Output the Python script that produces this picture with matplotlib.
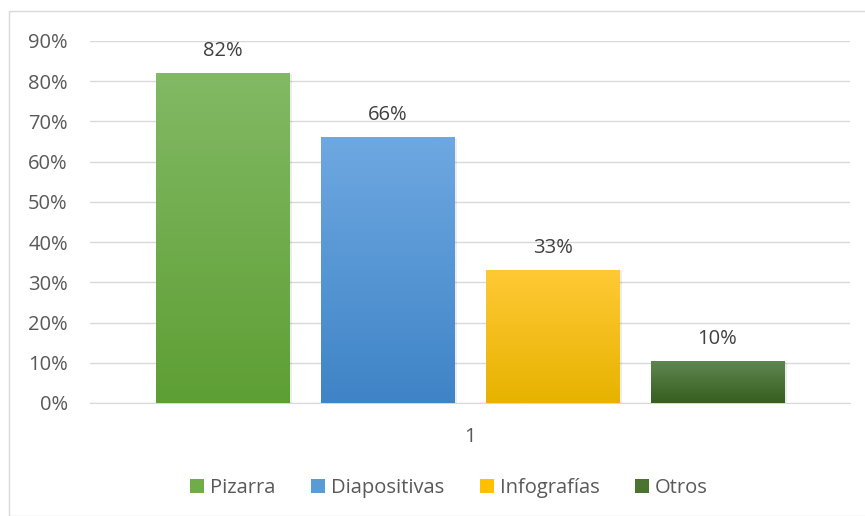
import numpy as np
import matplotlib.pyplot as plt
from matplotlib.colors import LinearSegmentedColormap
from matplotlib.patches import Rectangle, Patch

series = ["Pizarra", "Diapositivas", "Infografías", "Otros"]
values = [0.82, 0.66, 0.33, 0.104]
labels = ["82%", "66%", "33%", "10%"]
category = "1"
yticks = [0, 0.1, 0.2, 0.3, 0.4, 0.5, 0.6, 0.7, 0.8, 0.9]

# top / bottom gradient colours
top_cols = ["#82b964", "#6ea8e1", "#ffc935", "#5f8650"]
bot_cols = ["#5e9f34", "#3f84c7", "#e7b300", "#365e1f"]
legend_cols = ["#70ac47", "#5b9bd5", "#ffc000", "#4a7430"]

txt = "#595959"
fs = 14.5
plt.rcParams['font.family'] = ['Open Sans', 'DejaVu Sans']

fig = plt.figure(figsize=(8.65, 5.16), dpi=100)
fig.patches.append(Rectangle((9 / 865, 0), 1, 1 - 11 / 516, transform=fig.transFigure,
                             fill=False, edgecolor="#d9d9d9", linewidth=1.0))
ax = fig.add_axes([90 / 865, 1 - 403 / 516, 760 / 865, (403 - 41) / 516])

step = 165 / 760
width = 134 / 760
offsets = (np.arange(len(series)) - 1.5) * step

for i, (off, v) in enumerate(zip(offsets, values)):
    x0 = off - width / 2
    # soft shadow
    ax.add_patch(Rectangle((x0 + 0.001, -0.003), width + 0.002, v, facecolor="#000000",
                           alpha=0.07, edgecolor="none", zorder=2))
    cmap = LinearSegmentedColormap.from_list("g%d" % i, [bot_cols[i], top_cols[i]])
    grad = np.linspace(1, 0, 100).reshape(-1, 1)
    ax.imshow(grad, cmap=cmap, extent=[x0, x0 + width, 0, v], aspect="auto",
              zorder=3, vmin=0, vmax=1)
    ax.text(off, v + 0.056, labels[i], ha="center", va="center", fontsize=fs, color="#404040")

ax.set_xlim(-0.5, 0.5)
ax.set_ylim(0, 0.9)
ax.set_yticks(yticks)
ax.set_yticklabels(["%d%%" % round(t * 100) for t in yticks])
ax.set_xticks([0])
ax.set_xticklabels([category])
ax.yaxis.grid(True, color="#d9d9d9", linewidth=1.0)
ax.set_axisbelow(True)
for s in ["top", "right", "left"]:
    ax.spines[s].set_visible(False)
ax.spines["bottom"].set_color("#d9d9d9")
ax.tick_params(axis="both", length=0, labelsize=fs, labelcolor=txt)
ax.tick_params(axis="y", pad=16)
ax.tick_params(axis="x", pad=17.5)

handles = [Patch(facecolor=c, edgecolor="none") for c in legend_cols]
fig.legend(handles, series, loc="center", bbox_to_anchor=(449 / 865, 1 - 488 / 516),
           ncol=4, frameon=False, fontsize=fs, labelcolor=txt,
           handlelength=0.7, handleheight=0.7, handletextpad=0.3, columnspacing=1.75)

fig.savefig("out.png", dpi=100)
